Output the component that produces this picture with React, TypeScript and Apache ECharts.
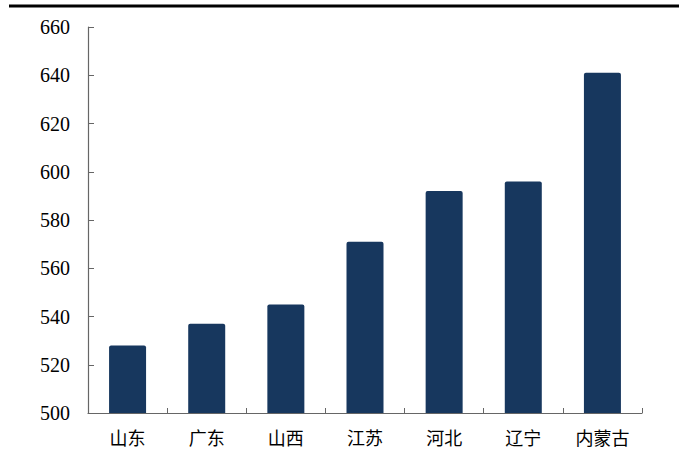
import React, { useEffect, useRef } from "react";
import * as echarts from "echarts";

const provinces = ["山东", "广东", "山西", "江苏", "河北", "辽宁", "内蒙古"];
const values = [528, 537, 545, 571, 592, 596, 641];
const yMin = 500;
const yMax = 660;
const yStep = 20;

export default function App() {
  const ref = useRef<HTMLDivElement>(null);

  useEffect(() => {
    document.body.style.margin = "0";
    if (!ref.current) return;
    const chart = echarts.init(ref.current, null, { renderer: "svg" });
    const axisColor = "#666666";
    chart.setOption({
      animation: false,
      backgroundColor: "#ffffff",
      grid: { left: 88, right: 37, top: 27, bottom: 53, containLabel: false },
      graphic: [
        {
          type: "rect",
          shape: { x: 9, y: 4.5, width: 670, height: 3 },
          style: { fill: "#000000" },
        },
      ],
      xAxis: {
        type: "category",
        data: provinces,
        axisLine: { show: true, lineStyle: { color: axisColor, width: 1.2 } },
        axisTick: { show: true, inside: true, length: 5, alignWithLabel: false, lineStyle: { color: axisColor } },
        axisLabel: {
          color: "#000000",
          fontSize: 18,
          margin: 17,
          fontFamily: "Liberation Serif, Noto Sans CJK SC, serif",
        },
      },
      yAxis: {
        type: "value",
        min: yMin,
        max: yMax,
        interval: yStep,
        axisLine: { show: true, lineStyle: { color: axisColor, width: 1.2 } },
        axisTick: { show: true, inside: true, length: 6, lineStyle: { color: axisColor } },
        splitLine: { show: false },
        axisLabel: {
          color: "#000000",
          fontSize: 20,
          margin: 18,
          fontFamily: "Liberation Serif, serif",
        },
      },
      series: [
        {
          type: "bar",
          data: values,
          barWidth: 37,
          itemStyle: { color: "#17375e", borderRadius: [2, 2, 0, 0] },
        },
      ],
    });
    return () => chart.dispose();
  }, []);

  return <div ref={ref} style={{ width: 679, height: 466 }} />;
}
